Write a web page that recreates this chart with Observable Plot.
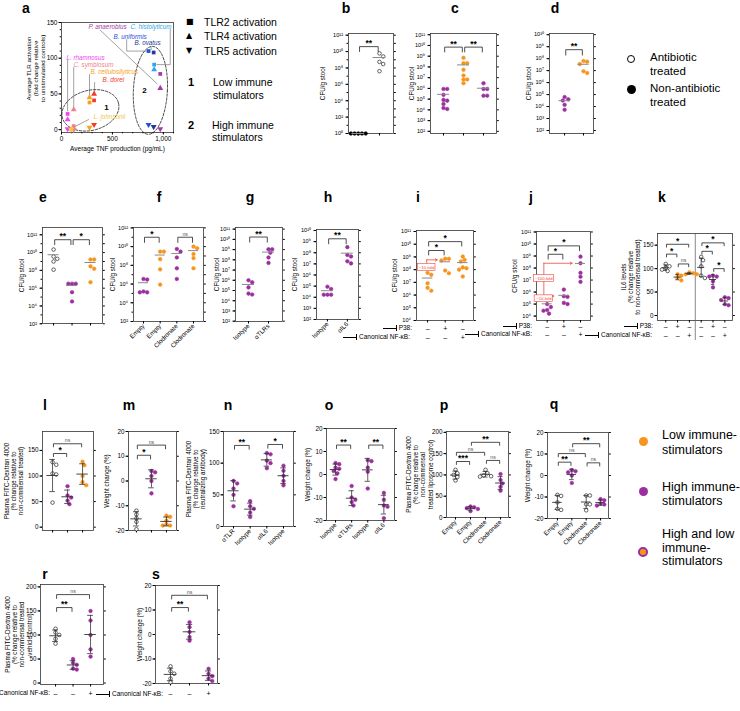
<!DOCTYPE html>
<html><head><meta charset="utf-8">
<script src="https://cdn.jsdelivr.net/npm/d3@7"></script>
<script src="https://cdn.jsdelivr.net/npm/@observablehq/plot@0.6"></script>
<style>
body{margin:0;background:#fff;}
#fig{position:relative;width:740px;height:711px;overflow:hidden;font-family:"Liberation Sans",Arial,sans-serif;color:#000;background:#fff;}
#fig div{white-space:nowrap;}
.inh{display:inline-block;width:13px;height:6px;border-right:1px solid #000;background:linear-gradient(#000,#000) center/100% 1px no-repeat;vertical-align:middle;margin-right:2px}
#fig svg{position:absolute;overflow:visible}
</style></head><body><div id="fig"></div><script>
// ---------------- DATA ----------------
// panel a
const aSpecies = ["L. rhamnosus","C. symbiosum","L. johnsonii","B. cellulosilyticus","B. dorei","P. anaerobius","C. histolyticum","B. uniformis","B. ovatus"];
const aColors  = ["#f046f0","#f0808a","#f2c64a","#f7a21b","#f43b2a","#a33aa8","#2ca6ee","#1f52d8","#24389f"];
const aTNF     = [60, 120, 95, 275, 320, 970, 910, 855, 905];
const aTLR2    = [22, 5, 1, 38, 41, 78, 91, 110, 108];
const aTLR4    = [14, 28, 0.5, 45, 50, 58, 84, null, null];
const aTLR5    = [1, 0, 0, 3, 7, 1, null, 7, 4];
const aLabelX  = [49, 118, 314, 285, 403, 265, 678, 511, 717];
const aLabelY  = [101, 91, 18, 81, 70, 144, 144, 130, 121];
const aLeaders = [[[60,97],[60,26]],[[120,87],[120,32]],[[265,14],[100,2]],[[275,77],[275,49]],[[325,66],[325,53]],[[382,139],[940,64]],[[1068,141],[1068,91],[935,91]],[[640,126],[640,110],[845,110]],[[880,116],[880,112]]];
const aClusterLabels = ["1","2"];
const aClusterX = [441, 814];
const aClusterY = [31, 55];
// panel b
const bNonAbx = [1, 1, 1, 1, 1];
const bAbx = [6e9, 2.5e9, 3e8, 4e7, 5.5e8];
// panel c
const cHigh1 = [8.9e5, 8.9e5, 2.5e5, 8.5e4, 7.2e4, 3.5e4, 1.2e4, 1.5e4];
const cLow = [7.1e8, 2.2e8, 2.2e8, 5.4e7, 1.6e7, 6.8e6, 6.8e6, 3e6];
const cHigh2 = [3e6, 8.9e5, 8.9e5, 2.1e5, 2.1e5];
// panel d
const dHigh = [6.2e4, 4e4, 3.2e4, 1.4e4, 5.4e3];
const dLow = [6.3e7, 5.6e7, 3.5e7, 8.9e6, 6.3e6];
// panel e
const eAbx = [2.2e10, 3.6e9, 2e9, 1e9, 1.2e8];
const eHigh = [3.2e6, 3.2e6, 3.2e6, 3.5e5, 3.2e4];
const eLow = [1.7e9, 1.7e9, 2.8e8, 1.5e8, 4.7e6];
// panel f
const fLabels = ["Empty","Empty","Clodronate","Clodronate"];
const fHighEmpty = [3e6, 3.5e6, 1.3e5, 1.6e5, 1.3e5];
const fLowEmpty = [2.9e9, 2.9e9, 4.6e8, 3.7e7, 8.7e5];
const fHighClod = [2.9e9, 5.6e9, 6.9e8, 4.8e7, 3.5e6];
const fLowClod = [1e10, 6.6e9, 1.6e9, 5.9e8, 4.8e7];
// panel g
const gLabels = ["Isotype","αTLRs"];
const gIso = [1e6, 6.3e5, 2e5, 5e4, 4e4];
const gAnti = [1.07e9, 1.07e9, 5e8, 1.7e8, 5e7];
// panel h
const hLabels = ["Isotype","αIL6"];
const hIso = [8.9e4, 5.5e4, 1.7e4, 1.7e4, 1.7e4];
const hAnti = [3.2e8, 4.6e7, 6.3e7, 1.1e7, 1.7e7];
// panel i
const iVeh = [5.6e7, 3.9e7, 8.5e6, 3.7e6, 2.2e6];
const iP38 = [7.1e8, 5.2e8, 7.1e8, 5.2e7, 8.5e7];
const iNFkB = [5.9e8, 1.07e9, 4.4e8, 1.3e8, 1.5e8, 1e8, 2.9e7];
// panel j
const jVeh = [4e5, 1e5, 5.6e4, 3.2e4, 2.8e4, 1.6e4];
const jP38 = [1.6e6, 4.5e5, 4e5, 1.26e5, 1e5];
const jNFkB = [8.9e8, 2.5e8, 4e7, 1.9e7, 7.1e6];
// inhibitor rows
const p38Row = ["–","+","–"];
const nfkbRow = ["–","–","+"];
const kP38Row = ["–","+","–","–","+","–"];
const kNfkbRow = ["–","–","+","–","–","+"];
const nfkbOnlyRow = ["–","–","+"];
// panel k
const kAbx1 = [110, 105, 102, 98, 95];
const kLowP38 = [88, 85, 80, 75];
const kLowNFkB = [92, 90, 88, 88];
const kAbx2 = [125, 118, 105, 85, 80];
const kHighP38 = [85, 83, 83, 73, 60];
const kHighNFkB = [39, 37, 33, 24, 22];
// panel l
const lAbx = [127, 122, 105, 103, 48];
const lHigh = [80, 62, 58, 52, 45];
const lLow = [128, 121, 100, 88, 82];
// panel m
const mAbx = [-12, -13.5, -15, -16.5, -19.5];
const mHigh = [4, 3.5, 2, 0, -5];
const mLow = [-14, -14.5, -16, -17.5, -18, -18];
// panel n
const nLabels = ["αTLR","Isotype","αIL6","Isotype"];
const nTLR = [72, 68, 60, 50, 32];
const nIso1 = [40, 32, 28, 22, 15];
const nIL6 = [116, 114, 104, 100, 92];
const nIso2 = [96, 88, 80, 72, 65];
// panel o
const oLabels = ["Isotype","αTLRs","Isotype","αIL6"];
const oIso1 = [5, 4.5, 3, 2.5, 1.5, 0.5, -2];
const oTLR = [-5, -10, -11, -12, -13.5];
const oIso2 = [6.2, 5.8, 3.0, 1.2, -6.1];
const oIL6 = [-8, -11, -13.5, -14, -19];
// panel p
const pqLabels = ["Empty","Empty","Clodronate","Clodronate"];
const pAbxEmpty = [112, 104, 100, 95, 87];
const pHighEmpty = [26, 24, 22, 20, 15];
const pAbxClod = [112, 104, 99, 97, 96];
const pHighClod = [102, 88, 80, 72, 63];
// panel q
const qAbxEmpty = [-9, -9.5, -12.5, -15.5, -16];
const qHighEmpty = [2.5, 2, 1.5, 0, -3.5];
const qAbxClod = [-9.3, -9.3, -13.4, -13.4, -16.2];
const qHighClod = [-11, -11.5, -13, -13.5, -14];
// panel r
const rAbx = [113, 105, 100, 92, 82];
const rVeh = [50, 42, 38, 30, 28];
const rNFkB = [150, 130, 100, 70, 55];
// panel s
const sAbx = [-13, -15, -16, -18, -19.5];
const sVeh = [5, 3, 1, -1, -2.5];
const sNFkB = [-14, -16, -17, -18, -19];

// ---------------- STYLE / HELPERS ----------------
const PURPLE = "#9b2f9f", ORANGE = "#f7941d", RED = "#f0463c";
const FILL = {open: "#fff", black: "#000", purple: PURPLE, orange: ORANGE};
const STROKE = {open: "#000", black: "#000", purple: PURPLE, orange: ORANGE};
const FONT = "Liberation Sans, Arial, sans-serif";
const SUP = "⁰¹²³⁴⁵⁶⁷⁸⁹";
const sup = n => String(n).split("").map(c => c === "-" ? "⁻" : SUP[+c]).join("");
const pow10 = d => "10" + sup(Math.round(Math.log10(d)));
const decades = (a, b, step = 1) => d3.range(a, b + 0.001, step).map(e => Math.pow(10, e));
const fig = document.getElementById("fig");
const ML = 40, MR = 8, MT = 20, MB = 40;

function place(svg, X0, Y0) {
  svg.style.left = (X0 - ML) + "px";
  svg.style.top = (Y0 - MT) + "px";
  fig.appendChild(svg);
}
function addDiv(html, css) {
  const d = document.createElement("div");
  d.innerHTML = html;
  d.style.position = "absolute";
  Object.assign(d.style, css);
  fig.appendChild(d);
  return d;
}
function swarm(pys, R) {
  const D = 2 * R + 0.1;
  const order = d3.range(pys.length).sort((a, b) => pys[a] - pys[b]);
  const placed = [], out = [];
  for (const i of order) {
    const y = pys[i];
    let best = 0;
    const cands = [0];
    for (let k = 1; k <= 12; k++) cands.push(k * D / 2, -k * D / 2);
    for (const c of cands) {
      if (placed.every(p => (p.x - c) ** 2 + (p.y - y) ** 2 >= D * D * 0.98)) { best = c; break; }
    }
    placed.push({x: best, y});
    out[i] = best;
  }
  return out;
}

// ---------------- PANEL a ----------------
const triDown = {draw(ctx, size) {
  const y = -Math.sqrt(size / (Math.sqrt(3) * 3));
  ctx.moveTo(0, -y * 2);
  ctx.lineTo(-Math.sqrt(3) * y, y);
  ctx.lineTo(Math.sqrt(3) * y, y);
  ctx.closePath();
}};
const aEllipseShapes = [{cx: 284, cy: 27, rx: 29, ry: 20, angle: 15}, {cx: 873, cy: 55, rx: 17, ry: 44, angle: -3}];
function panelA() {
  const [X0, Y0, X1, Y1] = [61, 22, 173, 132];
  const W = X1 - X0, H = Y1 - Y0;
  const xd = [0, 1100], yd = [-4, 150];
  const sx = W / (xd[1] - xd[0]), sy = H / (yd[1] - yd[0]);
  const rows = aSpecies.map((s, i) => ({s, c: aColors[i], x: aTNF[i], t2: aTLR2[i], t4: aTLR4[i], t5: aTLR5[i], lx: aLabelX[i], ly: aLabelY[i]}));
  const ell = aEllipseShapes.flatMap((e, k) => d3.range(0, 361, 5).map(deg => {
    const t = deg * Math.PI / 180, th = e.angle * Math.PI / 180;
    const u = e.rx * Math.cos(t), v = e.ry * Math.sin(t);
    return {k, x: e.cx + (u * Math.cos(th) - v * Math.sin(th)) / sx, y: e.cy + (u * Math.sin(th) + v * Math.cos(th)) / sy};
  }));
  const lead = aLeaders.flatMap((pts, k) => pts.map(p => ({k, x: p[0], y: p[1]})));
  const clusters = aClusterLabels.map((t, i) => ({t, x: aClusterX[i], y: aClusterY[i]}));
  const svg = Plot.plot({
    width: W + ML + MR, height: H + MT + MB, marginLeft: ML, marginRight: MR, marginTop: MT, marginBottom: MB,
    x: {domain: xd}, y: {domain: yd}, color: {type: "identity"},
    style: {fontFamily: FONT, fontSize: "6.5px", background: "transparent", overflow: "visible"},
    marks: [
      Plot.frame({stroke: "#333", strokeWidth: 0.8}),
      Plot.axisY({ticks: d3.range(0, 151, 10), tickSize: 1.3, tickFormat: () => "", label: null}),
      Plot.axisY({ticks: [0, 50, 100, 150], tickSize: 2.5, tickPadding: 1.5, label: null, fontSize: 6.5}),
      Plot.axisX({ticks: d3.range(0, 1101, 100), tickSize: 1.3, tickFormat: () => "", label: null}),
      Plot.axisX({ticks: [0, 500, 1000], tickSize: 2.5, tickPadding: 1.5, label: null, fontSize: 6.5}),
      Plot.line(ell, {x: "x", y: "y", z: "k", stroke: "#222", strokeWidth: 0.8, strokeDasharray: "2.5,1.5"}),
      Plot.line(lead, {x: "x", y: "y", z: "k", stroke: "#444", strokeWidth: 0.5}),
      Plot.dot(rows.filter(d => d.t2 != null), {x: "x", y: "t2", symbol: "square", r: 2.1, fill: "c"}),
      Plot.dot(rows.filter(d => d.t4 != null), {x: "x", y: "t4", symbol: "triangle", r: 2.2, fill: "c"}),
      Plot.dot(rows.filter(d => d.t5 != null), {x: "x", y: "t5", symbol: triDown, r: 2.2, fill: "c"}),
      Plot.text(rows, {x: "lx", y: "ly", text: "s", fill: "c", fontStyle: "italic", fontSize: 6.3, textAnchor: "start"}),
      Plot.text(clusters, {x: "x", y: "y", text: "t", fontWeight: "bold", fontSize: 8}),
      Plot.text(["Average TLR activation\n(fold change relative\nto unstimulated controls)"], {text: d => d, frameAnchor: "left", textAnchor: "middle", lineAnchor: "middle", rotate: -90, dx: -26, dy: -9, fontSize: 6.2, lineHeight: 1.15}),
      Plot.text(["Average TNF production (pg/mL)"], {text: d => d, frameAnchor: "bottom", textAnchor: "middle", lineAnchor: "middle", dy: 16, fontSize: 6.5})
    ]
  });
  place(svg, X0, Y0);
}

// ---------------- STAT PANELS ----------------
function statPanel(P) {
  const [X0, Y0, X1, Y1] = P.frame;
  const W = X1 - X0, H = Y1 - Y0;
  const ysc = (P.log ? d3.scaleLog() : d3.scaleLinear()).domain(P.y).range([H, 0]);
  const pxPerX = W / (P.x[1] - P.x[0]);
  const R = 1.8;
  const n = P.groups.length;
  const pts = [], stats = [];
  P.groups.forEach((g, gi) => {
    const offs = swarm(g.v.map(v => ysc(v)), R);
    g.v.forEach((v, j) => pts.push({x: gi + offs[j] / pxPerX, y: v, k: g.k}));
    const m = d3.mean(g.v);
    if (P.log) stats.push({gi, m});
    else { const sd = d3.deviation(g.v); stats.push({gi, m, lo: m - sd, hi: m + sd}); }
  });
  const marks = [
    Plot.frame({stroke: "#333", strokeWidth: 0.8}),
    Plot.axisY({ticks: P.yMinor || P.yTicks, tickSize: 1.5, tickFormat: () => "", label: null}),
    Plot.axisY({ticks: P.yTicks, tickSize: 2.5, tickPadding: P.log ? 3 : 1.5, tickFormat: P.log ? pow10 : d => String(d), label: null, fontSize: P.log ? 5.6 : 6.3}),
    Plot.axisY({anchor: "right", ticks: P.yMinor || P.yTicks, tickSize: 1.8, tickFormat: () => "", label: null}),
    Plot.axisX({ticks: d3.range(n), tickSize: 2.5, tickPadding: 1, tickFormat: P.xLabels ? i => P.xLabels[i] : () => "", tickRotate: P.xLabels ? -45 : 0, label: null, fontSize: 6.3})
  ];
  if (P.divider != null) marks.push(Plot.ruleX([P.divider], {stroke: "#555", strokeWidth: 0.7, insetBottom: -20}));
  marks.push(Plot.dot(pts, {x: "x", y: "y", r: R, fill: d => FILL[d.k], stroke: d => STROKE[d.k], strokeWidth: 0.6}));
  if (P.log) {
    marks.push(Plot.ruleY(stats, {y: "m", x1: d => d.gi - 0.3, x2: d => d.gi + 0.3, stroke: "#8a8a8a", strokeWidth: 1}));
  } else {
    const mw = P.mw || 0.33, cw = (P.mw || 0.33) / 2;
    marks.push(
      Plot.ruleX(stats, {x: "gi", y1: "lo", y2: "hi", stroke: "#333", strokeWidth: 0.8}),
      Plot.ruleY(stats, {y: "m", x1: d => d.gi - mw, x2: d => d.gi + mw, stroke: "#333", strokeWidth: 0.9}),
      Plot.ruleY(stats, {y: "lo", x1: d => d.gi - cw, x2: d => d.gi + cw, stroke: "#333", strokeWidth: 0.8}),
      Plot.ruleY(stats, {y: "hi", x1: d => d.gi - cw, x2: d => d.gi + cw, stroke: "#333", strokeWidth: 0.8})
    );
  }
  // annotations
  (P.ann || []).forEach(a => {
    const bh = Math.pow(10, 0.28);
    marks.push(
      Plot.ruleX([a], {x: "x0", y1: "yFrom", y2: "yTo", stroke: RED, strokeWidth: 0.8}),
      Plot.arrow([a], {x1: "x0", y1: "yTo", x2: "x1", y2: "yTo", stroke: RED, strokeWidth: 0.8, headLength: 4}),
      Plot.rect([a], {x1: d => d.x0 - d.bw, x2: d => d.x0 + d.bw, y1: d => d.by / bh, y2: d => d.by * bh, fill: "white", stroke: RED, strokeWidth: 0.6}),
      Plot.text([a], {x: "x0", y: "by", text: "label", fill: RED, fontSize: 4.2})
    );
  });
  // brackets
  const bp = [];
  P.br.forEach((b, k) => {
    const [a, c, y] = b;
    const yl = P.log ? y / Math.pow(10, P.leg) : y - P.leg;
    bp.push({k, x: a + 0.06, y: yl}, {k, x: a + 0.06, y}, {k, x: c - 0.06, y}, {k, x: c - 0.06, y: yl});
  });
  marks.push(Plot.line(bp, {x: "x", y: "y", z: "k", stroke: "#222", strokeWidth: 0.8}));
  marks.push(Plot.text(P.br.filter(b => b[3] !== "ns"), {x: d => (d[0] + d[1]) / 2, y: d => d[2], text: d => d[3], lineAnchor: "bottom", dy: -0.5, fontSize: 8.5, fontWeight: "bold"}));
  marks.push(Plot.text(P.br.filter(b => b[3] === "ns"), {x: d => (d[0] + d[1]) / 2, y: d => d[2], text: d => d[3], lineAnchor: "bottom", dy: -1.5, fontSize: 5.2, fill: "#555"}));
  // y label
  marks.push(Plot.text([P.yl], {text: d => d, frameAnchor: "left", textAnchor: "middle", lineAnchor: "middle", rotate: -90, dx: -P.ylOff, fontSize: 6.3, lineHeight: 1.15}));
  // sign rows
  (P.signs || []).forEach((row, r) => {
    marks.push(Plot.text(row, {x: (d, i) => i, text: d => d, frameAnchor: "bottom", textAnchor: "middle", lineAnchor: "middle", dy: P.signDy[r], fontSize: 7}));
  });
  const svg = Plot.plot({
    width: W + ML + MR, height: H + MT + MB, marginLeft: ML, marginRight: MR, marginTop: MT, marginBottom: MB,
    x: {domain: P.x}, y: {type: P.log ? "log" : "linear", domain: P.y}, color: {type: "identity"},
    style: {fontFamily: FONT, fontSize: "6px", background: "transparent", overflow: "visible"},
    marks
  });
  place(svg, X0, Y0);
}

const CFU = "CFU/g stool";
const panels = [
  {frame: [348, 33, 393, 133], x: [-0.46, 1.66], log: true, y: [1, 1.6e12], yTicks: decades(0, 12, 2), yMinor: decades(0, 12),
   groups: [{v: bNonAbx, k: "black"}, {v: bAbx, k: "open"}], br: [[0, 1, 4e10, "**"]], leg: 0.6, yl: CFU, ylOff: 26},
  {frame: [430, 33, 496, 133], x: [-0.65, 2.65], log: true, y: [63, 1.3e11], yTicks: decades(2, 11),
   groups: [{v: cHigh1, k: "purple"}, {v: cLow, k: "orange"}, {v: cHigh2, k: "purple"}], br: [[0, 1, 7e9, "**"], [1, 2, 7e9, "**"]], leg: 0.45, yl: CFU, ylOff: 19},
  {frame: [549, 33, 593, 133], x: [-0.8, 1.53], log: true, y: [56, 1.26e10], yTicks: decades(2, 10),
   groups: [{v: dHigh, k: "purple"}, {v: dLow, k: "orange"}], br: [[0, 1, 5.6e8, "**"]], leg: 0.45, yl: CFU, ylOff: 21},
  {frame: [42, 227, 102, 323], x: [-0.6, 2.65], log: true, y: [107, 6.6e12], yTicks: decades(2, 12, 2), yMinor: decades(2, 12),
   groups: [{v: eAbx, k: "open"}, {v: eHigh, k: "purple"}, {v: eLow, k: "orange"}], br: [[0, 1, 2.8e11, "**"], [1, 2, 2.8e11, "*"]], leg: 0.55, yl: CFU, ylOff: 21},
  {frame: [133, 227, 203, 321], x: [-0.6, 3.6], log: true, y: [100, 1.1e12], yTicks: decades(2, 12, 2), yMinor: decades(2, 12), xLabels: fLabels,
   groups: [{v: fHighEmpty, k: "purple"}, {v: fLowEmpty, k: "orange"}, {v: fHighClod, k: "purple"}, {v: fLowClod, k: "orange"}], br: [[0, 1, 1e11, "*"], [2, 3, 1e11, "ns"]], leg: 0.55, yl: CFU, ylOff: 21},
  {frame: [235, 227, 282, 321], x: [-0.65, 1.7], log: true, y: [93, 1.45e11], yTicks: decades(2, 11), xLabels: gLabels,
   groups: [{v: gIso, k: "purple"}, {v: gAnti, k: "purple"}], br: [[0, 1, 1.7e10, "**"]], leg: 0.5, yl: CFU, ylOff: 19},
  {frame: [316, 229, 358, 319], x: [-0.55, 1.56], log: true, y: [100, 1.23e10], yTicks: decades(2, 10), xLabels: hLabels,
   groups: [{v: hIso, k: "purple"}, {v: hAnti, k: "purple"}], br: [[0, 1, 1.8e9, "**"]], leg: 0.45, yl: CFU, ylOff: 22},
  {frame: [416, 230, 473, 320], x: [-0.63, 2.61], log: true, y: [1e4, 1.2e11], yTicks: decades(4, 11),
   groups: [{v: iVeh, k: "orange"}, {v: iP38, k: "orange"}, {v: iNFkB, k: "orange"}], br: [[0, 1, 3.2e9, "*"], [0, 2, 1.6e10, "*"]], leg: 0.35, yl: CFU, ylOff: 22,
   signs: [p38Row, nfkbRow], signDy: [8, 17],
   ann: [{x0: -0.05, yFrom: 1.5e8, yTo: 5.9e8, x1: 0.55, by: 1.5e8, bw: 0.5, label: "~10-fold"}]},
  {frame: [536, 231, 590, 320], x: [-0.64, 2.6], log: true, y: [4.3e3, 1.1e11], yTicks: decades(4, 11),
   groups: [{v: jVeh, k: "purple"}, {v: jP38, k: "purple"}, {v: jNFkB, k: "purple"}], br: [[0, 1, 1.4e9, "*"], [0, 2, 7e9, "*"]], leg: 0.4, yl: CFU, ylOff: 22,
   signs: [p38Row, nfkbRow], signDy: [6, 14],
   ann: [{x0: -0.2, yFrom: 2.8e5, yTo: 2.5e8, x1: 1.5, by: 1.35e7, bw: 0.6, label: "~100-fold"}, {x0: -0.2, yFrom: 2.8e5, yTo: 4.7e5, x1: 0.4, by: 2.8e5, bw: 0.55, label: "~10-fold"}]},
  {frame: [657, 233, 732, 320], x: [-0.7, 5.65], log: false, y: [-10.7, 175], yTicks: [0, 50, 100, 150], divider: 2.5, mw: 0.3,
   groups: [{v: kAbx1, k: "open"}, {v: kLowP38, k: "orange"}, {v: kLowNFkB, k: "orange"}, {v: kAbx2, k: "open"}, {v: kHighP38, k: "purple"}, {v: kHighNFkB, k: "purple"}],
   br: [[0, 2, 152, "*"], [0, 1, 131, "*"], [1, 2, 110, "ns"], [3, 5, 155, "*"], [3, 4, 137, "*"], [4, 5, 100, "*"]], leg: 6,
   yl: "IL6 levels\n(% change relative\nto non-commensal treated)", ylOff: 27, signs: [kP38Row, kNfkbRow], signDy: [6, 15]},
  {frame: [42, 431, 93, 530], x: [-0.67, 2.73], log: false, y: [-6.5, 187], yTicks: [0, 50, 100, 150], mw: 0.38,
   groups: [{v: lAbx, k: "open"}, {v: lHigh, k: "purple"}, {v: lLow, k: "orange"}], br: [[0, 2, 163, "ns"], [0, 1, 144, "*"]], leg: 6,
   yl: "Plasma FITC-Dextran 4000\n(% change relative to\nnon-commensal treated)", ylOff: 29},
  {frame: [128, 431, 176, 530], x: [-0.53, 2.67], log: false, y: [-20, 20], yTicks: [-20, -10, 0, 10, 20], mw: 0.38,
   groups: [{v: mAbx, k: "open"}, {v: mHigh, k: "purple"}, {v: mLow, k: "orange"}], br: [[0, 2, 14.5, "ns"], [0, 1, 10.4, "*"]], leg: 1.5,
   yl: "Weight change (%)", ylOff: 22},
  {frame: [223, 431, 293, 526], x: [-0.6, 3.6], log: false, y: [0, 150], yTicks: [0, 50, 100, 150], xLabels: nLabels,
   groups: [{v: nTLR, k: "purple"}, {v: nIso1, k: "purple"}, {v: nIL6, k: "purple"}, {v: nIso2, k: "purple"}], br: [[0, 1, 128, "**"], [2, 3, 129.5, "*"]], leg: 6,
   yl: "Plasma FITC-Dextran 4000\n(% change relative to\nneutralizing antibody)", ylOff: 28},
  {frame: [326, 428, 394, 520], x: [-0.56, 3.66], log: false, y: [-20, 20], yTicks: [-20, -10, 0, 10, 20], xLabels: oLabels,
   groups: [{v: oIso1, k: "purple"}, {v: oTLR, k: "purple"}, {v: oIso2, k: "purple"}, {v: oIL6, k: "purple"}], br: [[0, 1, 12.8, "**"], [2, 3, 12.8, "**"]], leg: 1.5,
   yl: "Weight change (%)", ylOff: 19},
  {frame: [446, 431, 508, 517], x: [-0.6, 3.53], log: false, y: [0, 202], yTicks: [0, 50, 100, 150, 200], xLabels: pqLabels,
   groups: [{v: pAbxEmpty, k: "open"}, {v: pHighEmpty, k: "purple"}, {v: pAbxClod, k: "open"}, {v: pHighClod, k: "purple"}],
   br: [[0, 1, 131.5, "***"], [0, 2, 153, "ns"], [1, 3, 176.6, "**"], [2, 3, 134, "ns"]], leg: 7,
   yl: "Plasma FITC-Dextran 4000\n(% change relative to\nnon-commensal\ntreated liposome control)", ylOff: 27},
  {frame: [547, 432, 608, 518], x: [-0.69, 3.55], log: false, y: [-20, 20], yTicks: [-20, -10, 0, 10, 20], xLabels: pqLabels,
   groups: [{v: qAbxEmpty, k: "open"}, {v: qHighEmpty, k: "purple"}, {v: qAbxClod, k: "open"}, {v: qHighClod, k: "purple"}],
   br: [[0, 1, 6.2, "**"], [0, 2, 10.2, "ns"], [1, 3, 14.8, "**"], [2, 3, 5.9, "ns"]], leg: 1.5,
   yl: "Weight change (%)", ylOff: 20},
  {frame: [40, 584, 103, 684], x: [-0.86, 2.74], log: false, y: [-3, 205], yTicks: [0, 50, 100, 150, 200],
   groups: [{v: rAbx, k: "open"}, {v: rVeh, k: "purple"}, {v: rNFkB, k: "purple"}], br: [[0, 2, 184, "ns"], [0, 1, 157, "**"]], leg: 8,
   yl: "Plasma FITC-Dextran 4000\n(% change relative to\nnon-commensal treated\nvehicle control)", ylOff: 22, signs: [nfkbOnlyRow], signDy: [9]},
  {frame: [155, 585, 217, 683], x: [-0.79, 2.47], log: false, y: [-20, 20], yTicks: [-20, -10, 0, 10, 20],
   groups: [{v: sAbx, k: "open"}, {v: sVeh, k: "purple"}, {v: sNFkB, k: "purple"}], br: [[0, 2, 16, "ns"], [0, 1, 11, "**"]], leg: 1.5,
   yl: "Weight change (%)", ylOff: 16, signs: [nfkbOnlyRow], signDy: [10]}
];

panelA();
panels.forEach(statPanel);

// ---------------- HTML LABELS ----------------
const letters = [["a", 26, 13], ["b", 346, 13], ["c", 455, 13], ["d", 555, 13],
  ["e", 43, 202], ["f", 159, 202], ["g", 250, 202], ["h", 328, 202], ["i", 418, 202], ["j", 531, 202], ["k", 662, 202],
  ["l", 45, 410], ["m", 129, 410], ["n", 228, 410], ["o", 329, 410], ["p", 444, 410], ["q", 554, 409],
  ["r", 45, 579], ["s", 156, 579]];
letters.forEach(([t, cx, base]) => addDiv(t, {left: cx + "px", top: (base - 11.9) + "px", fontSize: "14px", fontWeight: "bold", lineHeight: "14px", transform: "translateX(-50%)"}));

// TLR legend
const tlrLegend = [["■", "TLR2 activation", 22], ["▲", "TLR4 activation", 36], ["▼", "TLR5 activation", 51]];
tlrLegend.forEach(([sym, t, cy]) => {
  addDiv(sym, {left: "186px", top: (cy - 5) + "px", fontSize: "8px", lineHeight: "10px", fontFamily: "DejaVu Sans"});
  addDiv(t, {left: "204px", top: (cy - 6) + "px", fontSize: "10.5px", lineHeight: "12px"});
});
addDiv("1", {left: "188px", top: "76px", fontSize: "11px", lineHeight: "12px", fontWeight: "bold"});
addDiv("Low immune<br>stimulators", {left: "213px", top: "75.5px", fontSize: "10.5px", lineHeight: "13px"});
addDiv("2", {left: "188px", top: "119px", fontSize: "11px", lineHeight: "12px", fontWeight: "bold"});
addDiv("High immune<br>stimulators", {left: "212px", top: "118.5px", fontSize: "10.5px", lineHeight: "12.5px"});

// antibiotic legend
function circle(cx, cy, r, css) { addDiv("", Object.assign({left: (cx - r) + "px", top: (cy - r) + "px", width: 2 * r + "px", height: 2 * r + "px", borderRadius: "50%", boxSizing: "border-box"}, css)); }
circle(631, 59, 4.2, {border: "1.5px solid #000", background: "#fff"});
addDiv("Antibiotic<br>treated", {left: "650px", top: "50px", fontSize: "11.5px", lineHeight: "14px"});
circle(631, 89, 4.5, {background: "#000"});
addDiv("Non-antibiotic<br>treated", {left: "650px", top: "81px", fontSize: "11.5px", lineHeight: "14px"});

// bottom-right legend
circle(643, 441, 4.5, {background: ORANGE});
addDiv("Low immune-<br>stimulators", {left: "662px", top: "428px", fontSize: "12.5px", lineHeight: "15px"});
circle(643, 491, 4.5, {background: PURPLE});
addDiv("High immune-<br>stimulators", {left: "662px", top: "479.5px", fontSize: "12.5px", lineHeight: "14px"});
circle(643, 552, 4.8, {background: ORANGE, border: "2.5px solid " + PURPLE});
addDiv("High and low<br>immune-<br>stimulators", {left: "662px", top: "528px", fontSize: "12.5px", lineHeight: "13.5px"});

// inhibitor row labels
const inhRows = [[412, 328, "P38:"], [410, 337, "Canonical NF-κB:"], [532, 326, "P38:"], [532, 334, "Canonical NF-κB:"],
  [653, 326, "P38:"], [652, 335, "Canonical NF-κB:"], [50, 693, "Canonical NF-κB:"], [163, 694, "Canonical NF-κB:"]];
inhRows.forEach(([right, cy, t]) => addDiv('<span class="inh"></span>' + t, {right: (740 - right) + "px", top: (cy - 4) + "px", fontSize: "6.5px", lineHeight: "8px"}));
</script></body></html>
